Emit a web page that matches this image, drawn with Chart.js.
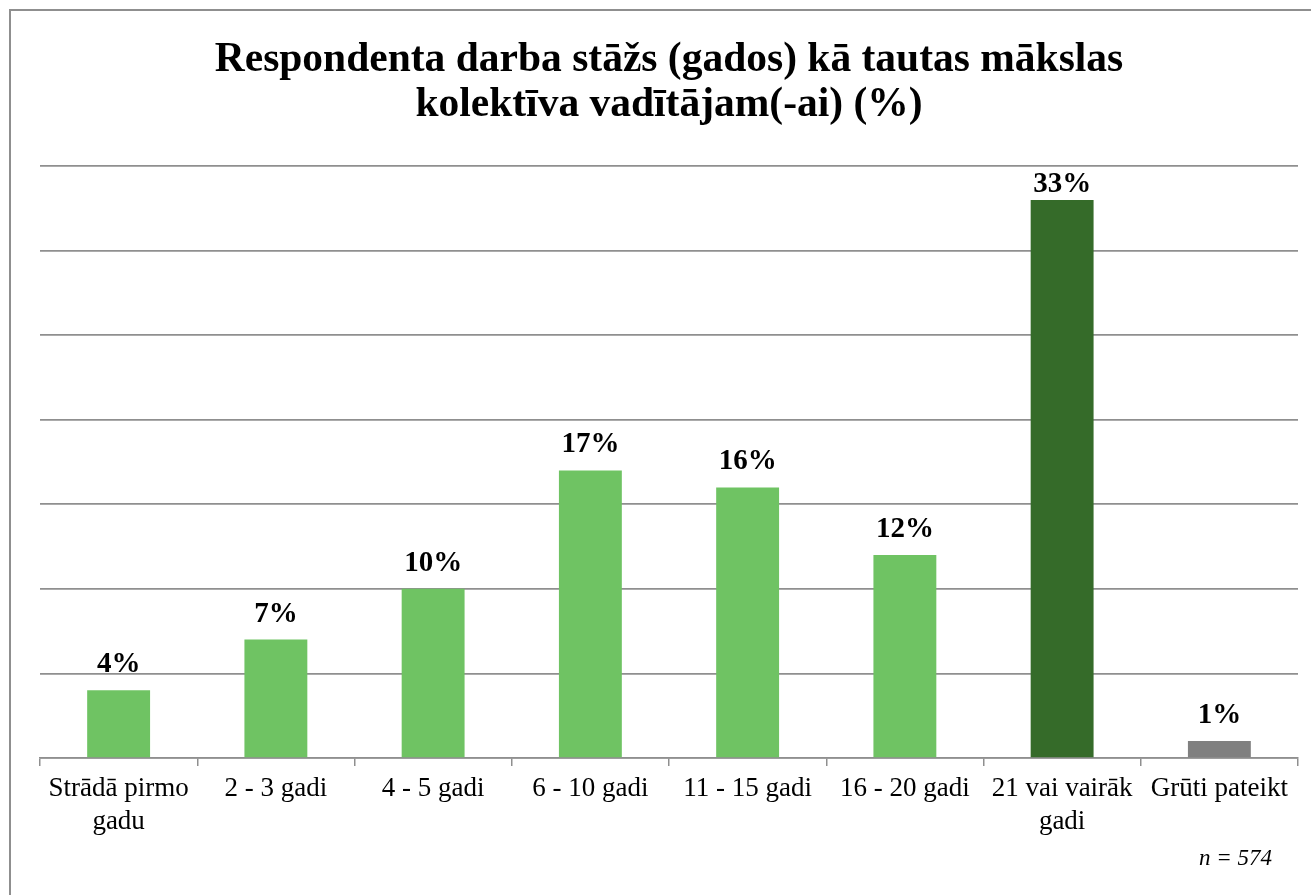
<!DOCTYPE html>
<html>
<head>
<meta charset="utf-8">
<script src="https://cdn.jsdelivr.net/npm/chart.js@4.4.1/dist/chart.umd.min.js"></script>
<style>
    html, body { margin: 0; padding: 0; background: #fff; overflow: hidden; }
    #frame { position: absolute; left: 9px; top: 9px; width: 1320px; height: 900px; border: 2px solid #8f8f8f; box-sizing: border-box; }
    #wrap { position: absolute; left: 0; top: 0; width: 1311px; height: 895px; }
</style>
</head>
<body>
<div id="frame"></div>
<div id="wrap"><canvas id="chart"></canvas></div>
<script>
// ===== Data =====
const categories = [
    ['Strādā pirmo', 'gadu'], '2 - 3 gadi', '4 - 5 gadi', '6 - 10 gadi',
    '11 - 15 gadi', '16 - 20 gadi', ['21 vai vairāk', 'gadi'], 'Grūti pateikt'
];
const values = [4, 7, 10, 17, 16, 12, 33, 1];
const barColors = ['#6fc363', '#6fc363', '#6fc363', '#6fc363', '#6fc363', '#6fc363', '#356b29', '#808080'];
const titleLines = ['Respondenta darba stāžs (gados) kā tautas mākslas', 'kolektīva vadītājam(-ai) (%)'];
const noteText = 'n = 574';

const SERIF = '"Liberation Serif", "Times New Roman", serif';

// ===== Value labels + sample note =====
const labelPlugin = {
    id: 'valueLabels',
    afterDatasetsDraw(chart) {
        const ctx = chart.ctx;
        const meta = chart.getDatasetMeta(0);
        ctx.save();
        ctx.fillStyle = '#000';
        ctx.font = 'bold 29px ' + SERIF;
        ctx.textAlign = 'center';
        ctx.textBaseline = 'alphabetic';
        meta.data.forEach((bar, i) => {
            // keep the label inside the plot area like Excel does
            const y = Math.max(bar.y - 18, chart.chartArea.top + 26);
            ctx.fillText(values[i] + '%', bar.x, y);
        });
        ctx.font = 'italic 23px ' + SERIF;
        ctx.textAlign = 'right';
        ctx.fillText(noteText, chart.chartArea.right - 26, 865);
        ctx.restore();
    }
};

new Chart(document.getElementById('chart'), {
    type: 'bar',
    data: {
        labels: categories,
        datasets: [{
            data: values,
            backgroundColor: barColors,
            barPercentage: 0.4,
            categoryPercentage: 1
        }]
    },
    options: {
        responsive: true,
        maintainAspectRatio: false,
        animation: false,
        layout: { padding: { left: 40, right: 13, bottom: 0 } },
        plugins: {
            legend: { display: false },
            tooltip: { enabled: false },
            title: {
                display: true,
                text: titleLines,
                color: '#000',
                font: { family: SERIF, size: 41.5, weight: 'bold', lineHeight: 1.085 },
                padding: { top: 38, bottom: 38 }
            }
        },
        scales: {
            x: {
                grid: { drawOnChartArea: false, color: '#8f8f8f', tickLength: 8, lineWidth: 1.5 },
                border: { color: '#8f8f8f', width: 1.5 },
                ticks: {
                    color: '#000',
                    font: { family: SERIF, size: 27, lineHeight: 1.22 },
                    maxRotation: 0, autoSkip: false, padding: 6
                },
                afterFit: (scale) => { scale.height = 137; }
            },
            y: {
                min: 0, max: 35,
                ticks: { display: false, stepSize: 5 },
                grid: { color: '#8f8f8f', lineWidth: 1.7, drawTicks: false },
                border: { display: false },
                afterFit: (scale) => { scale.width = 0; }
            }
        }
    },
    plugins: [labelPlugin]
});
</script>
</body>
</html>
